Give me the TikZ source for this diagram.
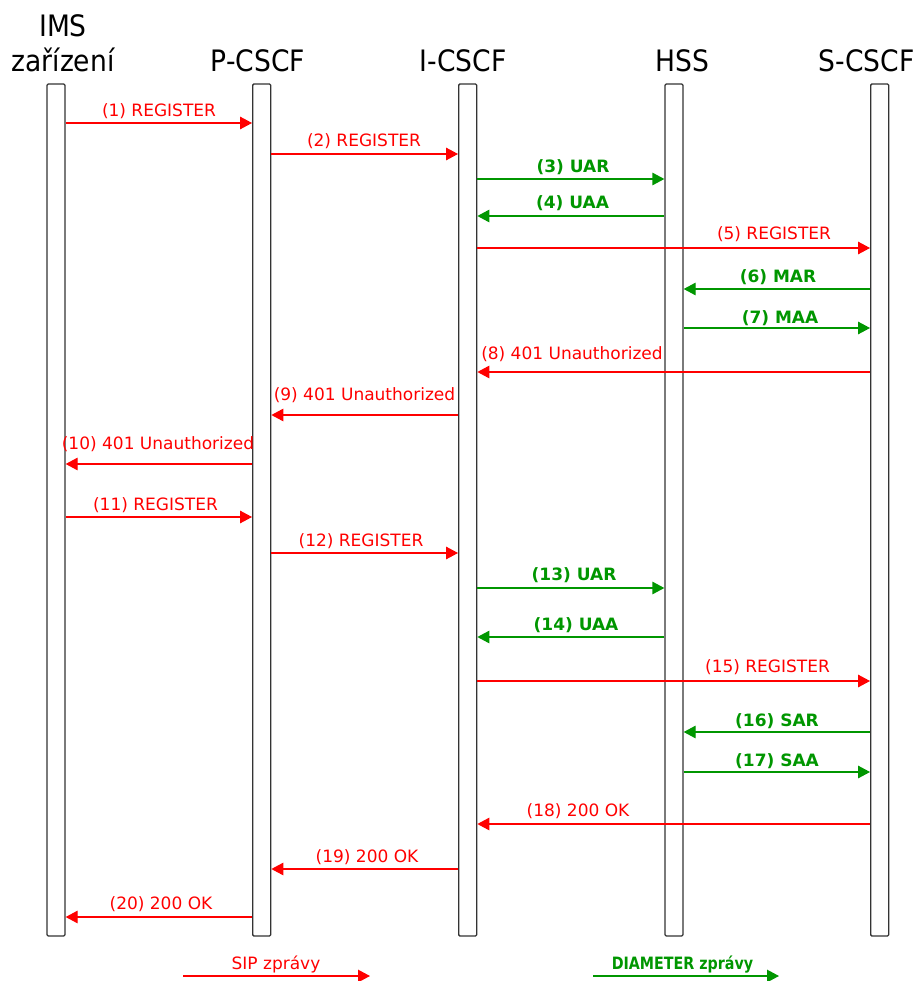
\documentclass[tikz,border=0pt]{standalone}
\usepackage{fontspec}
\setmainfont{DejaVu Sans}
\newfontfamily\headfont[FakeStretch=0.9]{DejaVu Sans}
\usetikzlibrary{arrows.meta}
\definecolor{sipred}{RGB}{255,0,0}
\definecolor{diagreen}{RGB}{0,150,0}
\tikzset{
  lifebar/.style={draw=black!80, fill=white, line width=1.3pt, rounded corners=1.2pt,
    minimum width=18pt, minimum height=852pt, inner sep=0pt},
  head/.style={font=\headfont\fontsize{29.5}{35}\selectfont, anchor=base, inner sep=0pt},
  sip/.style={draw=sipred, line width=1.3pt, -{Triangle[length=12pt,width=12.5pt]}},
  dia/.style={draw=diagreen, line width=1.3pt, -{Triangle[length=12pt,width=12.5pt]}},
  siplab/.style={text=sipred, font=\fontsize{17}{20}\selectfont, anchor=base, inner sep=0pt},
  dialab/.style={text=diagreen, font=\fontsize{17}{20}\selectfont\bfseries, anchor=base, inner sep=0pt}
}
\newcommand\sipmsg[6]{%
  \coordinate (r#3) at (0,#3);
  \draw[sip] (#1 |- r#3) -- (#2 |- r#3);
  \node[siplab] (l#3) at (#4,#5) {#6};}
\newcommand\diamsg[6]{%
  \coordinate (r#3) at (0,#3);
  \draw[dia] (#1 |- r#3) -- (#2 |- r#3);
  \node[dialab] (l#3) at (#4,#5) {#6};}
\begin{document}
\begin{tikzpicture}[x=1pt,y=-1pt]
\useasboundingbox (0,0) rectangle (919,981);
% lifelines
\node[lifebar] (ims) at (56,510) {};
\node[lifebar] (pcscf) at (261.7,510) {};
\node[lifebar] (icscf) at (467.7,510) {};
\node[lifebar] (hss) at (674,510) {};
\node[lifebar] (scscf) at (879.7,510) {};
% headers
\node[head] (hims1) at (63,37) {IMS};
\node[head] (hims2) at (63,72) {zařízení};
\node[head] (hp) at (258,72) {P-CSCF};
\node[head] (hi) at (463,72) {I-CSCF};
\node[head] (hh) at (682,72) {HSS};
\node[head] (hs) at (866.7,72) {S-CSCF};
% messages
\sipmsg{ims.east}{pcscf.west}{123}{159}{117}{(1) REGISTER}
\sipmsg{pcscf.east}{icscf.west}{154}{364}{147}{(2) REGISTER}
\diamsg{icscf.east}{hss.west}{179}{573}{173}{(3) UAR}
\diamsg{hss.west}{icscf.east}{216}{572.5}{209}{(4) UAA}
\sipmsg{icscf.east}{scscf.west}{248}{774}{240}{(5) REGISTER}
\diamsg{scscf.west}{hss.east}{289}{778}{283}{(6) MAR}
\diamsg{hss.east}{scscf.west}{328}{780}{323}{(7) MAA}
\sipmsg{scscf.west}{icscf.east}{372}{572}{359}{(8) 401 Unauthorized}
\sipmsg{icscf.west}{pcscf.east}{415}{364.5}{400}{(9) 401 Unauthorized}
\sipmsg{pcscf.west}{ims.east}{464}{158}{449}{(10) 401 Unauthorized}
\sipmsg{ims.east}{pcscf.west}{517}{155.5}{510}{(11) REGISTER}
\sipmsg{pcscf.east}{icscf.west}{553}{361}{546}{(12) REGISTER}
\diamsg{icscf.east}{hss.west}{588}{574}{580}{(13) UAR}
\diamsg{hss.west}{icscf.east}{637}{576}{630}{(14) UAA}
\sipmsg{icscf.east}{scscf.west}{681}{767.5}{672}{(15) REGISTER}
\diamsg{scscf.west}{hss.east}{732}{777}{726}{(16) SAR}
\diamsg{hss.east}{scscf.west}{772}{777}{766}{(17) SAA}
\sipmsg{scscf.west}{icscf.east}{824}{578}{816}{(18) 200 OK}
\sipmsg{icscf.west}{pcscf.east}{869}{367}{862}{(19) 200 OK}
\sipmsg{pcscf.west}{ims.east}{917}{161}{909}{(20) 200 OK}
% legend
\coordinate (sipA) at (183,976);
\coordinate (sipB) at (370,976);
\draw[sip] (sipA) -- (sipB);
\node[siplab] (sipL) at (276,969) {SIP zprávy};
\coordinate (diaA) at (593,976);
\coordinate (diaB) at (779,976);
\draw[dia] (diaA) -- (diaB);
\node[dialab] (diaL) at (682.5,969) {\scalebox{0.84}[1]{DIAMETER zprávy}};
\end{tikzpicture}
\end{document}
